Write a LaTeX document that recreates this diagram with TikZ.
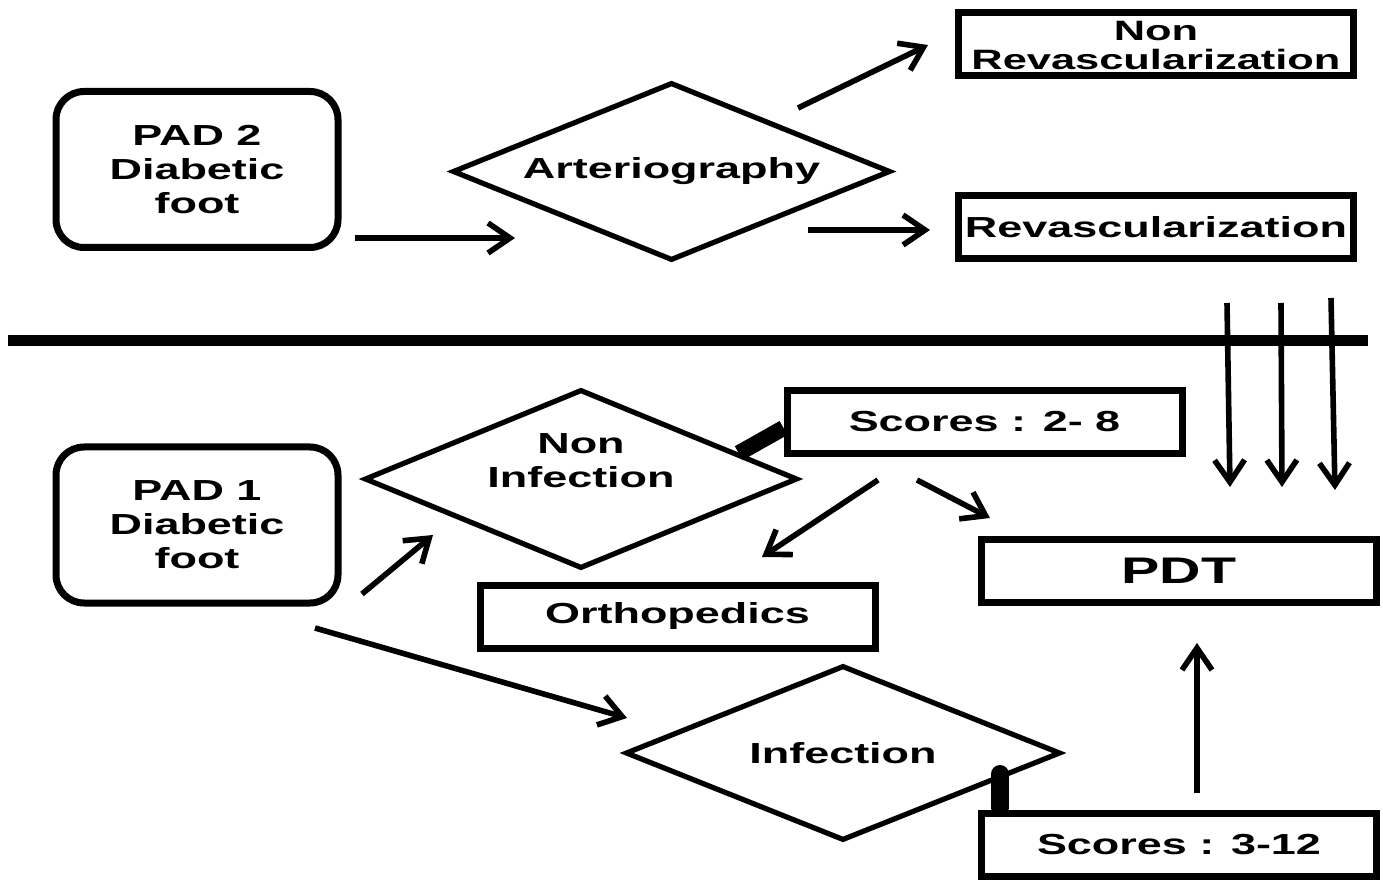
\documentclass[tikz,border=0pt]{standalone}
\usepackage{fontspec}
\setmainfont{Liberation Sans}[FakeStretch=1.55]
\usetikzlibrary{shapes.geometric,arrows.meta,calc}
\begin{document}
\begin{tikzpicture}[x=0.5pt,y=-0.5pt,
  txt/.style={font=\bfseries\fontsize{14.5}{17}\selectfont, align=center},
  box/.style={txt, draw, line width=3.5pt, inner sep=0pt, minimum width=197.5pt, minimum height=31.5pt},
  rbox/.style={txt, draw, line width=3.5pt, rounded corners=14pt, inner sep=0pt, minimum width=141pt, minimum height=78pt},
  dia/.style={txt, draw, diamond, aspect=2.4, line width=2.6pt, inner sep=0pt},
  arr/.style={line width=2.8pt, -{Straight Barb[length=11pt,width=15pt]}},
  thick link/.style={line width=8pt},
]
\useasboundingbox (0,0) rectangle (1383,882);

% nodes
\node[rbox] (pad2) at (197,169.5) {PAD 2\\Diabetic\\foot};
\node[dia, minimum width=219pt, minimum height=89pt] (art) at (671.5,171.5) {Arteriography};
\node[box, minimum height=31.5pt,
      label={[txt,font=\bfseries\fontsize{14}{14.5}\selectfont,inner sep=0pt,yshift=-0.5pt]center:Non\\Revascularization}] (nrev) at (1156,44.5) {};
\node[box] (rev) at (1156,227.5) {Revascularization};
\node[rbox] (pad1) at (197,525) {PAD 1\\Diabetic\\foot};
\node[dia, minimum width=216.5pt, minimum height=89.5pt,
      label={[txt,yshift=9pt]center:Non\\Infection}] (ninf) at (581,479) {};
\node[box] (s28) at (984.5,422) {Scores : 2- 8};
\node[box] (orth) at (677.5,616.5) {Orthopedics};
\node[box, font=\bfseries\fontsize{18.5}{20}\selectfont] (pdt) at (1179,570.5) {PDT};
\node[dia, minimum width=217.5pt, minimum height=87.5pt] (inf) at (843,753) {Infection};
\node[box] (s312) at (1179,845) {Scores : 3-12};

% free connector ends
\coordinate (a1s) at (355,238);  \coordinate (a1e) at (515,238);
\coordinate (a2s) at (798,108);  \coordinate (a2e) at (928,45);
\coordinate (a3s) at (808,230);  \coordinate (a3e) at (930,230);
\coordinate (hl) at (8,341);     \coordinate (hr) at (1368,341);
\coordinate (v1s) at (1227,303); \coordinate (v1e) at (1230,487);
\coordinate (v2s) at (1281,303); \coordinate (v2e) at (1282,487);
\coordinate (v3s) at (1331,298); \coordinate (v3e) at (1335,490);
\coordinate (a4s) at (362,594);  \coordinate (a4e) at (433,535);
\coordinate (a5s) at (315,628);  \coordinate (a5e) at (627,718);
\coordinate (a6s) at (878,480);  \coordinate (a6e) at (762,557);
\coordinate (a7s) at (917,480);  \coordinate (a7e) at (990,518);
\coordinate (a8s) at (1197,793); \coordinate (a8e) at (1197,643);
\coordinate (c1) at ($(ninf.north)!0.72!(ninf.east)$);
\coordinate (c2) at (1000,774);

% connectors
\draw[arr] (a1s) -- (a1e);
\draw[arr] (a2s) -- (a2e);
\draw[arr] (a3s) -- (a3e);
\draw[line width=5.5pt] (hl) -- (hr);
\draw[arr] (v1s) -- (v1e);
\draw[arr] (v2s) -- (v2e);
\draw[arr] (v3s) -- (v3e);
\draw[arr] (a4s) -- (a4e);
\draw[arr] (a5s) -- (a5e);
\draw[arr] (a6s) -- (a6e);
\draw[arr] (a7s) -- (a7e);
\draw[arr] (a8s) -- (a8e);
\draw[thick link] ([yshift=-3pt]s28.west) -- (c1);
\draw[line width=9pt, line cap=round] (c2) -- ([yshift=1pt]c2 |- s312.north);
\end{tikzpicture}
\end{document}
